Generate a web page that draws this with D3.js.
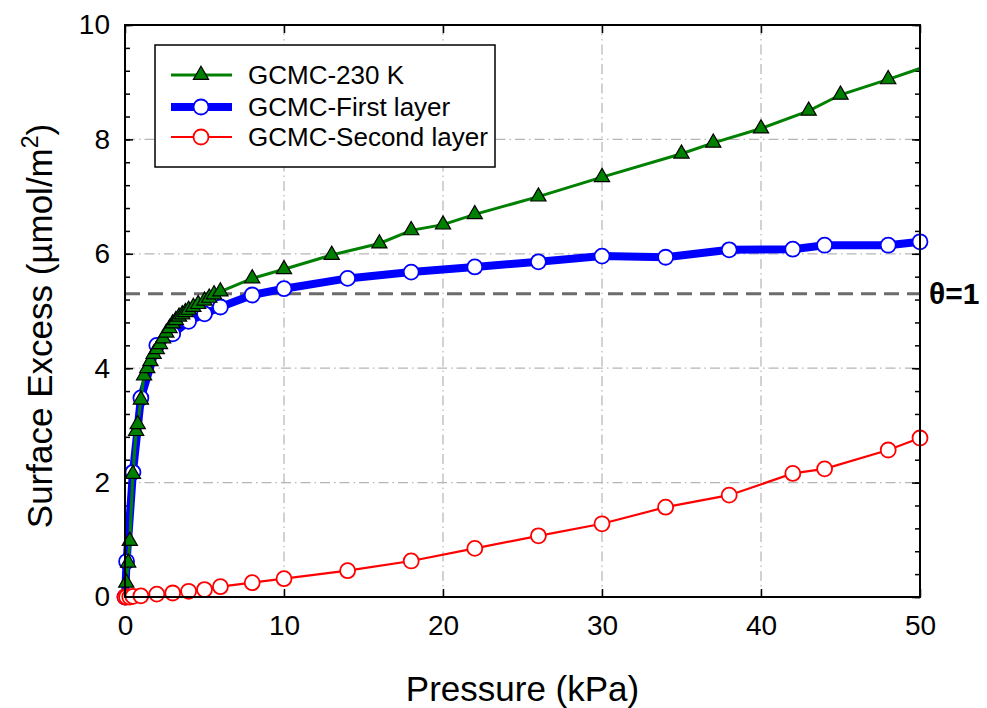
<!DOCTYPE html>
<html><head><meta charset="utf-8">
<script src="https://cdn.jsdelivr.net/npm/d3@7"></script>
<style>body{margin:0;background:#fff}svg{display:block}text{font-family:"Liberation Sans",Arial,sans-serif}</style>
</head><body><svg id="c" width="987" height="708"></svg>
<script>
const greenP = [0.08,0.2,0.3,0.5,0.7,0.8,1.0,1.2,1.4,1.6,1.8,2.0,2.2,2.4,2.6,2.8,3.0,3.2,3.4,3.6,3.8,4.0,4.3,4.6,5.0,5.3,5.6,6.0,8,10,13,16,18,20,22,26,30,35,37,40,43,45,48,50];
const greenV = [0.25,0.6,0.98,2.15,2.9,3.02,3.45,3.87,4.0,4.12,4.25,4.33,4.42,4.52,4.62,4.7,4.78,4.84,4.9,4.94,4.98,5.02,5.07,5.12,5.18,5.23,5.29,5.34,5.57,5.73,5.98,6.18,6.41,6.51,6.69,7.0,7.34,7.75,7.94,8.19,8.5,8.78,9.05,9.24];
const blueP = [0,0.1,0.5,1,2,3,4,5,6,8,10,14,18,22,26,30,34,38,42,44,48,50];
const blueV = [0,0.62,2.18,3.48,4.4,4.6,4.82,4.95,5.07,5.28,5.39,5.57,5.68,5.77,5.86,5.96,5.94,6.07,6.08,6.15,6.15,6.21];
const redP = [0,0.1,0.3,0.5,1,2,3,4,5,6,8,10,14,18,22,26,30,34,38,42,44,48,50];
const redV = [0,0,0,0.01,0.02,0.05,0.07,0.1,0.13,0.18,0.25,0.32,0.46,0.63,0.85,1.07,1.28,1.57,1.78,2.16,2.24,2.57,2.78];
const xTicks = [0,10,20,30,40,50];
const yTicks = [0,2,4,6,8,10];
const theta = 5.3;
const seriesNames = ["GCMC-230 K","GCMC-First layer","GCMC-Second layer"];

const svg = d3.select("#c");
const L=125,R=920,T=25,B=597;
const x = d3.scaleLinear().domain([0,50]).range([L,R]);
const y = d3.scaleLinear().domain([0,10]).range([B,T]);

// grid
const grid = svg.append("g").attr("stroke","#b5b5b5").attr("stroke-width",1.2).attr("stroke-dasharray","10,4,1.5,4");
grid.selectAll(".gx").data(xTicks.slice(1,-1)).join("line").attr("x1",d=>x(d)).attr("x2",d=>x(d)).attr("y1",T).attr("y2",B);
grid.selectAll(".gy").data(yTicks.slice(1,-1)).join("line").attr("y1",d=>y(d)).attr("y2",d=>y(d)).attr("x1",L).attr("x2",R);

// axes
const minorY = d3.range(0,10.01,0.4);
const axB = d3.axisBottom(x).tickValues(xTicks).tickSize(-8).tickPadding(18).tickFormat(d3.format("d"));
const axT = d3.axisTop(x).tickValues(xTicks).tickSize(-8).tickFormat("");
const axL = d3.axisLeft(y).tickValues(yTicks).tickSize(-8).tickPadding(15).tickFormat(d3.format("d"));
const axR = d3.axisRight(y).tickValues(yTicks).tickSize(-8).tickFormat("");
const mL = d3.axisLeft(y).tickValues(minorY).tickSize(-5).tickFormat("");
const mR = d3.axisRight(y).tickValues(minorY).tickSize(-5).tickFormat("");
function styleAx(g){g.select(".domain").remove();g.selectAll("line").attr("stroke","#000").attr("stroke-width",1.5);g.selectAll("text").attr("font-size",28).attr("fill","#000").attr("font-family","Liberation Sans, Arial, sans-serif");}
svg.append("g").attr("transform",`translate(0,${B})`).call(axB).call(styleAx);
svg.append("g").attr("transform",`translate(0,${T})`).call(axT).call(styleAx);
svg.append("g").attr("transform",`translate(${L},0)`).call(axL).call(styleAx);
svg.append("g").attr("transform",`translate(${R},0)`).call(axR).call(styleAx);
svg.append("g").attr("transform",`translate(${L},0)`).call(mL).call(styleAx);
svg.append("g").attr("transform",`translate(${R},0)`).call(mR).call(styleAx);

// theta line
svg.append("line").attr("x1",L).attr("x2",R).attr("y1",y(theta)).attr("y2",y(theta))
  .attr("stroke","#6b6b6b").attr("stroke-width",3).attr("stroke-dasharray","15,8");
svg.append("text").attr("x",929).attr("y",y(theta)+10).attr("font-size",30).attr("font-weight","bold")
  .attr("font-family","Liberation Sans, Arial, sans-serif").text("θ=1");

const line = d3.line().x(d=>x(d[0])).y(d=>y(d[1]));
const blue = blueP.map((p,i)=>[p,blueV[i]]);
const green = greenP.map((p,i)=>[p,greenV[i]]);
const red = redP.map((p,i)=>[p,redV[i]]);
const tri = d3.symbol().type(d3.symbolTriangle).size(100);

// blue
svg.append("path").attr("d",line(blue)).attr("fill","none").attr("stroke","#0000ff").attr("stroke-width",8).attr("stroke-linejoin","round");
svg.append("g").selectAll("circle").data(blue).join("circle").attr("cx",d=>x(d[0])).attr("cy",d=>y(d[1])).attr("r",7.5)
  .attr("fill","#fff").attr("stroke","#0000ff").attr("stroke-width",1.8);
// red
svg.append("path").attr("d",line(red)).attr("fill","none").attr("stroke","#ff0000").attr("stroke-width",2.2);
svg.append("g").selectAll("circle").data(red).join("circle").attr("cx",d=>x(d[0])).attr("cy",d=>y(d[1])).attr("r",7.5)
  .attr("fill","#fff").attr("stroke","#ff0000").attr("stroke-width",1.8);
// green
svg.append("path").attr("d",line(green)).attr("fill","none").attr("stroke","#008000").attr("stroke-width",3);
svg.append("g").selectAll("path").data(green.slice(0,-1)).join("path").attr("d",tri)
  .attr("transform",d=>`translate(${x(d[0])},${y(d[1])})`).attr("fill","#008000").attr("stroke","#000").attr("stroke-width",1.2);

// frame
svg.append("rect").attr("x",L).attr("y",T).attr("width",R-L).attr("height",B-T).attr("fill","none").attr("stroke","#000").attr("stroke-width",2);

// legend
const lg = svg.append("g");
lg.append("rect").attr("x",155).attr("y",45).attr("width",340).attr("height",122).attr("fill","#fff").attr("stroke","#000").attr("stroke-width",1.5);
const rows=[75,107,137];
const lx1=171,lx2=232,lm=201;
lg.append("line").attr("x1",lx1).attr("x2",lx2).attr("y1",rows[0]).attr("y2",rows[0]).attr("stroke","#008000").attr("stroke-width",3);
lg.append("path").attr("d",tri).attr("transform",`translate(${lm},${rows[0]})`).attr("fill","#008000").attr("stroke","#000").attr("stroke-width",1.2);
lg.append("line").attr("x1",lx1).attr("x2",lx2).attr("y1",rows[1]).attr("y2",rows[1]).attr("stroke","#0000ff").attr("stroke-width",8);
lg.append("circle").attr("cx",lm).attr("cy",rows[1]).attr("r",7.5).attr("fill","#fff").attr("stroke","#0000ff").attr("stroke-width",1.8);
lg.append("line").attr("x1",lx1).attr("x2",lx2).attr("y1",rows[2]).attr("y2",rows[2]).attr("stroke","#ff0000").attr("stroke-width",2.2);
lg.append("circle").attr("cx",lm).attr("cy",rows[2]).attr("r",7.5).attr("fill","#fff").attr("stroke","#ff0000").attr("stroke-width",1.8);
lg.selectAll("text.l").data(seriesNames).join("text").attr("x",248).attr("y",(d,i)=>rows[i]+9).attr("font-size",26).text(d=>d);

// titles
svg.append("text").attr("x",(L+R)/2).attr("y",701).attr("text-anchor","middle").attr("font-size",35).text("Pressure (kPa)");
const yt = svg.append("text").attr("transform",`translate(52,326) rotate(-90)`).attr("text-anchor","middle").attr("font-size",35);
yt.append("tspan").text("Surface Excess (µmol/m");
yt.append("tspan").attr("dy",-14).attr("font-size",23).text("2");
yt.append("tspan").attr("dy",14).text(")");
</script></body></html>
